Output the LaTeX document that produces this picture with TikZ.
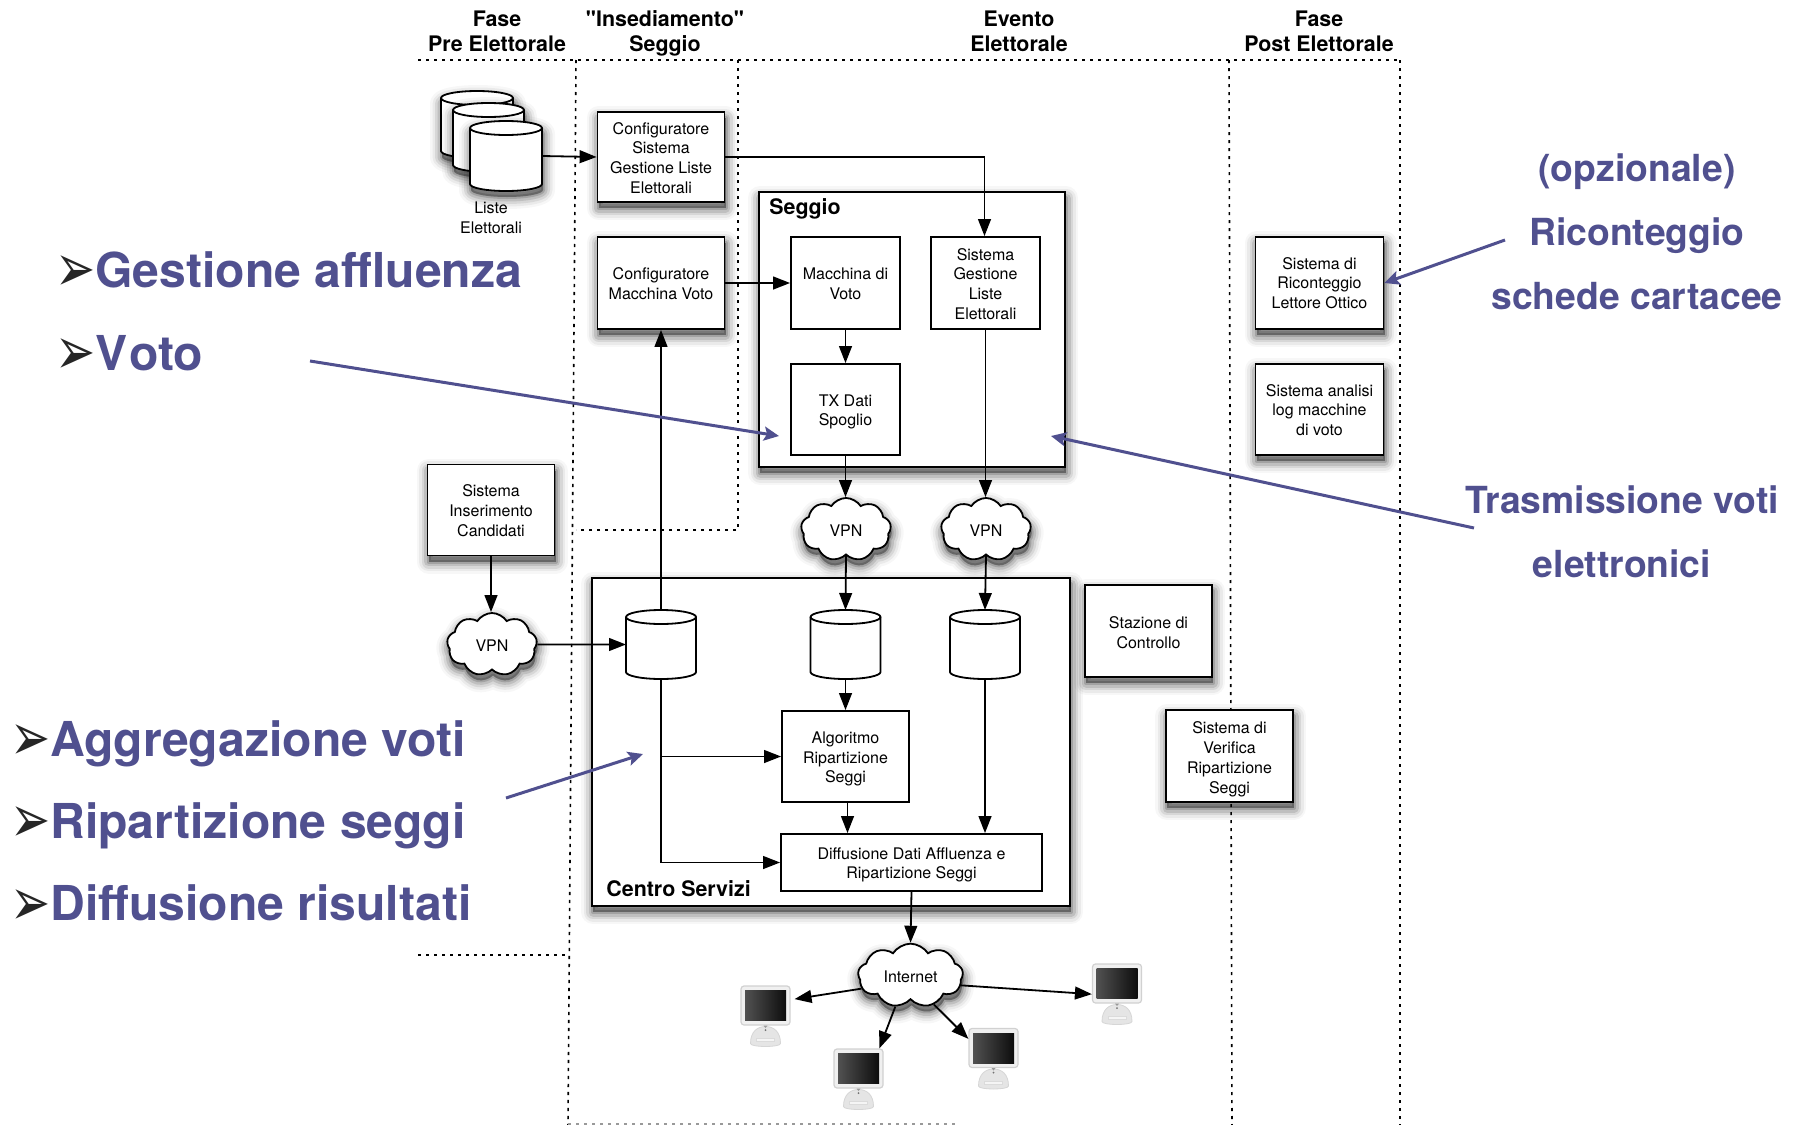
\documentclass[tikz,border=0pt]{standalone}
\usepackage{fontspec}
\usepackage{graphicx}
\setmainfont{TeX Gyre Heros}
\newfontfamily\quoteheros{TeX Gyre Heros}
\newfontfamily\dejavfont{DejaVu Sans}
\usetikzlibrary{arrows.meta,shapes.symbols}
\definecolor{slateblue}{HTML}{50508F}
\tikzset{
  softshadow/.style={
    preaction={fill=black,draw=black,line join=round,line width=12pt,opacity=.03,transform canvas={yshift=-3pt,xshift=.5pt}},
    preaction={fill=black,draw=black,line join=round,line width=9.5pt,opacity=.05,transform canvas={yshift=-3pt,xshift=.5pt}},
    preaction={fill=black,draw=black,line join=round,line width=7pt,opacity=.08,transform canvas={yshift=-3pt,xshift=.5pt}},
    preaction={fill=black,draw=black,line join=round,line width=4.5pt,opacity=.11,transform canvas={yshift=-3pt,xshift=.5pt}},
    preaction={fill=black,draw=black,line join=round,line width=2pt,opacity=.15,transform canvas={yshift=-3pt,xshift=.5pt}},
  },
  boxbase/.style={draw=black,fill=white,line width=.9pt,inner sep=0pt,align=center,font=\fontsize{8}{9.9}\selectfont},
  flatbox/.style={boxbase},
  shadbox/.style={boxbase,softshadow},
  drumnode/.style={rectangle,inner sep=0pt,outer sep=0pt},
  drumline/.style={draw=black,fill=white,line width=.9pt},
  vpncloud/.style={cloud,cloud puffs=9,cloud puff arc=115,aspect=1.45,draw=black,fill=white,line width=.9pt,inner sep=0pt,minimum width=45pt,minimum height=31.5pt,font=\fontsize{8}{9.9}\selectfont,softshadow,execute at begin node={\rule{0pt}{7.1pt}}},
  headlabel/.style={align=center,font=\bfseries\fontsize{10.7}{12.6}\selectfont,inner sep=0pt},
  smalllabel/.style={align=center,font=\fontsize{8}{9.9}\selectfont,inner sep=0pt},
  biglabel/.style={anchor=base west,text=slateblue,font=\bfseries\fontsize{24.05}{26}\selectfont,inner sep=0pt},
  sidelabel/.style={anchor=base,text=slateblue,font=\bfseries\fontsize{18.65}{20}\selectfont,inner sep=0pt},
  bulletmark/.style={anchor=base,text=black!85,font=\dejavfont\fontsize{24}{24}\selectfont,inner sep=0pt},
  conn/.style={draw=black,line width=.9pt,-{Triangle[length=8.5pt,width=6.4pt]}},
  callout/.style={draw=slateblue,line width=1.5pt,-{Stealth[length=7.5pt,width=7pt,inset=1.5pt]}},
  phase/.style={draw=black,line width=.8pt,dash pattern=on 1.6pt off 2.4pt},
  macframe/.style={rectangle,rounded corners=1.5pt,draw=black!18,fill=black!6,line width=.6pt,minimum width=24.5pt,minimum height=19.5pt,inner sep=0pt},
}
\newcommand{\arrowbullet}{\scalebox{1}[1.4]{➢}}
\newcommand{\dn}[1]{\rule{0pt}{\dimexpr5.9pt+#1pt\relax}}
% \drumstore[extra style]{name}{cx}{cy}{width px}{height px}
\newcommand{\drumstore}[6][]{%
  \pgfmathsetmacro{\drw}{#5/2}%
  \pgfmathsetmacro{\drh}{#6/2}%
  \pgfmathsetmacro{\drrx}{#5/4}%
  \node[drumnode,minimum width=\drw pt,minimum height=\drh pt] (#2) at (#3,#4) {};
  \begin{scope}[shift={(#3,#4)}]
    \path[drumline,#1] (-\drw,-\drh+7) -- (-\drw,\drh-7)
      arc[start angle=180,end angle=360,x radius=\drrx pt,y radius=3.5pt]
      -- (\drw,-\drh+7)
      arc[start angle=0,end angle=180,x radius=\drrx pt,y radius=3.5pt] -- cycle;
    \draw[draw=black,line width=.9pt] (-\drw,-\drh+7)
      arc[start angle=180,end angle=360,x radius=\drrx pt,y radius=3.5pt];
  \end{scope}}
\newcommand{\macdetail}[1]{%
  \begin{scope}[shift={(#1.center)}]
    \fill[black!10,draw=black!16,line width=.4pt] (-15,38) .. controls (-15,26) and (-8,21) .. (0,21) .. controls (8,21) and (15,26) .. (15,38) .. controls (15,42) and (-15,42) .. (-15,38) -- cycle;
    \shade[left color=black!68,right color=black!95] (-20.5,-15) rectangle (20.5,15);
    \fill[black!4,draw=black!14,line width=.3pt] (-9,33) rectangle (9,36);
    \fill[black!55] (0,24.5) circle (1);
    \fill[black!40] (-2,20) -- (2,20) -- (0,22.5) -- cycle;
  \end{scope}}
\begin{document}
\begin{tikzpicture}[x=.5pt,y=-.5pt]
\useasboundingbox (0,0) rectangle (1796,1125);
\fill[white] (0,0) rectangle (1796,1125);

% phase boundaries
\draw[phase] (418,60) -- (1400,60);
\draw[phase] (576,60) -- (568,1125);
\draw[phase] (738,60) -- (738,530) -- (576,530);
\draw[phase] (1229,60) -- (1232,1125);
\draw[phase] (1400,60) -- (1400,1125);
\draw[phase] (418,955) -- (569,955);
\draw[phase,draw=black!40] (568,1124) -- (955,1124);

% phase titles
\node[headlabel] (t1) at (497,31.5) {Fase\\Pre Elettorale};
\node[headlabel] (t2) at (665,33.5) {{\quoteheros\bfseries "Insediamento"}\\Seggio};
\node[headlabel] (t3) at (1019,31.5) {Evento\\Elettorale};
\node[headlabel] (t4) at (1319,31.5) {Fase\\Post Elettorale};

% containers
\node[shadbox,minimum width=153pt,minimum height=137.5pt] (seggio) at (912,329.5) {};
\node[shadbox,minimum width=239pt,minimum height=164pt] (centro) at (831,742) {};
\node[headlabel,anchor=west] (seggiolbl) at (769,209) {Seggio};
\node[headlabel,anchor=west] (centrolbl) at (606,889) {Centro Servizi};

% boxes
\node[shadbox,minimum width=63.5pt,minimum height=45pt] (cfgs) at (661,157) {\dn{1.1}Configuratore\\Sistema\\Gestione Liste\\Elettorali};
\node[shadbox,minimum width=63.5pt,minimum height=46pt] (cfgm) at (661,283) {\dn{1.1}Configuratore\\Macchina Voto};
\node[flatbox,minimum width=54.5pt,minimum height=46pt] (macch) at (845.5,283) {\dn{1.1}Macchina di\\Voto};
\node[flatbox,minimum width=54.5pt,minimum height=46pt] (gest) at (985.5,283) {\dn{1.1}Sistema\\Gestione\\Liste\\Elettorali};
\node[flatbox,minimum width=54.5pt,minimum height=45.5pt] (tx) at (845.5,409.5) {\dn{2.3}TX Dati\\Spoglio};
\node[shadbox,minimum width=63.5pt,minimum height=45.5pt] (ins) at (491,510) {\dn{.6}Sistema\\Inserimento\\Candidati};
\node[shadbox,minimum width=63.5pt,minimum height=46pt] (staz) at (1148.5,631) {\dn{2.1}Stazione di\\Controllo};
\node[shadbox,minimum width=63.5pt,minimum height=46pt] (verif) at (1229.5,756) {\dn{3.4}Sistema di\\Verifica\\Ripartizione\\Seggi};
\node[flatbox,minimum width=63.5pt,minimum height=45.5pt] (alg) at (845.5,756.5) {\dn{2.4}Algoritmo\\Ripartizione\\Seggi};
\node[flatbox,minimum width=130.5pt,minimum height=28.5pt] (diff) at (911.5,862.5) {\dn{2.4}Diffusione Dati Affluenza e\\Ripartizione Seggi};
\node[shadbox,minimum width=64pt,minimum height=46pt] (ric) at (1319.5,283) {\dn{.1}Sistema di\\Riconteggio\\Lettore Ottico};
\node[shadbox,minimum width=64pt,minimum height=45.5pt] (ana) at (1319.5,409.5) {\dn{.6}Sistema analisi\\log macchine\\di voto};

% stores
\drumstore[softshadow]{listea}{477}{124.5}{72}{67}
\drumstore[softshadow]{listeb}{488.5}{137.5}{71}{69}
\drumstore[softshadow]{listec}{506}{156}{72}{70}
\node[smalllabel] (listelbl) at (491,218) {Liste\\Elettorali};
\drumstore{db1}{661}{644.5}{70}{69}
\drumstore{db2}{845.5}{644.5}{70}{69}
\drumstore{db3}{985}{644.5}{70}{69}

% clouds
\node[vpncloud] (vpn1) at (846,529.5) {VPN};
\node[vpncloud] (vpn2) at (986,529.5) {VPN};
\node[vpncloud] (vpn3) at (492,644.5) {VPN};
\node[vpncloud,minimum width=52.5pt,minimum height=31.5pt] (inet) at (910.5,975.5) {Internet};

% computers
\node[macframe] (c1) at (765.5,1005.5) {};
\node[macframe] (c2) at (858.5,1068.5) {};
\node[macframe] (c3) at (993.5,1048) {};
\node[macframe] (c4) at (1117,983.5) {};
\macdetail{c1}\macdetail{c2}\macdetail{c3}\macdetail{c4}

% connectors
\draw[conn] (listec.east) -- (cfgs.west);
\draw[conn] (cfgs.east) -| ([xshift=-.5pt]gest.north);
\draw[conn] (cfgm.east) -- (macch.west);
\draw[conn] (macch) -- (tx);
\draw[conn] (tx.south) -- (vpn1.north -| tx.south);
\draw[conn] (gest.south) -- (vpn2.north -| gest.south);
\draw[conn] (vpn1.south) -- (db2.north);
\draw[conn] (vpn2.south) -- (db3.north);
\draw[conn] (db1.north) -- (cfgm.south);
\draw[conn] (ins.south) -- (vpn3.north -| ins.south);
\draw[conn] (vpn3.east) -- (db1.west);
\draw[conn] (db2.south) -- (alg.north);
\draw[conn] (db1.south) |- (alg.west);
\draw[conn] (db1.south) |- (diff.west);
\draw[conn] ([xshift=1pt]alg.south) -- ([xshift=1pt]alg.south |- diff.north);
\draw[conn] (db3.south) -- (db3.south |- diff.north);
\draw[conn] (diff.south) -- (inet.north);
\draw[conn,shorten >=2pt] (inet.195) -- (c1.13);
\draw[conn] (inet.244) -- (c2.44);
\draw[conn] (inet.309) -- (c3.160);
\draw[conn] (inet.349) -- (c4.203);

% annotation text
\node[bulletmark] (b1) at (76,291) {\arrowbullet};
\node[biglabel] (g1) at (95,287.5) {Gestione affluenza};
\node[bulletmark] (b2) at (76,374) {\arrowbullet};
\node[biglabel] (g2) at (95,370) {V\kern.85pt oto};
\node[bulletmark] (b3) at (31,760) {\arrowbullet};
\node[biglabel] (g3) at (50,756) {Aggregazione voti};
\node[bulletmark] (b4) at (31,842) {\arrowbullet};
\node[biglabel] (g4) at (50,838) {Ripartizione seggi};
\node[bulletmark] (b5) at (31,925) {\arrowbullet};
\node[biglabel] (g5) at (50,920) {Diffusione risultati};
\node[sidelabel] (r1) at (1637,181.5) {(opzionale)};
\node[sidelabel] (r2) at (1637,245) {Riconteggio};
\node[sidelabel] (r3) at (1637,309) {schede cartacee};
\node[sidelabel] (r4) at (1622,513) {Trasmissione voti};
\node[sidelabel] (r5) at (1622,577) {elettronici};

% annotation arrows
\coordinate (a1s) at (310,361);
\coordinate (a1e) at (779,436);
\coordinate (a2s) at (1474,528);
\coordinate (a2e) at (1051,436);
\coordinate (a3s) at (506,798);
\coordinate (a3e) at (643,754);
\coordinate (a4s) at (1505,240);
\draw[callout] (a1s) -- (a1e);
\draw[callout] (a2s) -- (a2e);
\draw[callout] (a3s) -- (a3e);
\draw[callout] (a4s) -- (ric.east);
\end{tikzpicture}
\end{document}
